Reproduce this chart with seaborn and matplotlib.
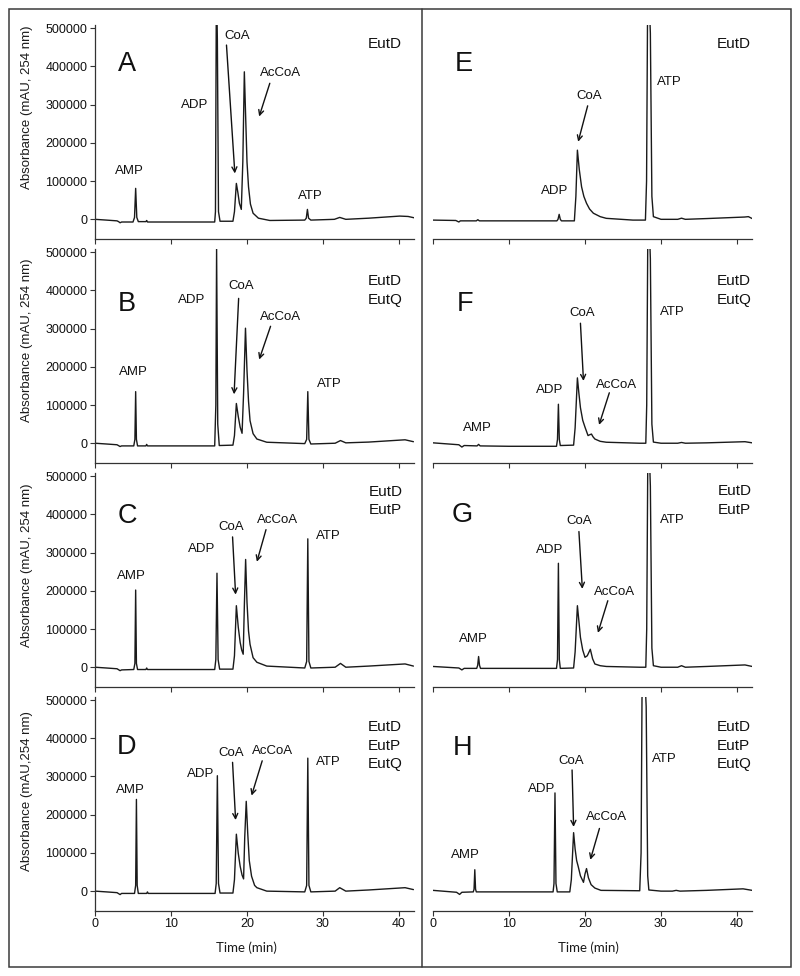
import numpy as np
import pandas as pd
import matplotlib
matplotlib.use("Agg")
import matplotlib.pyplot as plt
import seaborn as sns
from matplotlib.patches import Rectangle
from matplotlib.lines import Line2D

sns.set_theme(style="ticks")
plt.rcParams["font.family"] = ["Liberation Sans", "DejaVu Sans"]

# ---------------- data (time in min, absorbance in mAU) ----------------
time_A = [0, 1.5, 2.9, 3.1, 3.3, 3.5, 5.0, 5.2, 5.35, 5.5, 5.7, 6.7, 6.8, 6.9, 10, 15.75, 15.85, 15.95, 16.0, 16.1, 16.25, 16.45,
          18.15, 18.35, 18.6, 18.8, 19.0, 19.25, 19.45, 19.65, 19.85, 20.0, 20.2, 20.45, 20.8, 21.5, 23.0,
          27.6, 27.8, 27.95, 28.1, 28.4, 31.5, 32.2, 33.0, 36.0, 40.1, 41.2, 42.0]
abs_A = [0, -2000, -4000, -6000, -9000, -7000, -7000, 5000, 81000, 5000, -6000, -6000, -3000, -7000, -7000, -7000, 20000, 505000, 600000, 470000, 20000, -5000,
         -5000, 20000, 94000, 70000, 42000, 26000, 150000, 386000, 250000, 150000, 85000, 40000, 16000, 3000, -3000,
         -2000, 3000, 26000, 3000, -2000, 0, 5000, 0, 3000, 8500, 7500, 4000]

time_B = [0, 1.5, 2.9, 3.3, 3.5, 5.1, 5.25, 5.35, 5.45, 5.6, 6.7, 6.8, 6.9, 10, 15.75, 15.9, 16.0, 16.15, 16.35,
          18.15, 18.35, 18.6, 18.85, 19.1, 19.35, 19.55, 19.8, 20.0, 20.2, 20.4, 20.8, 21.3, 22.6,
          27.6, 27.85, 28.0, 28.15, 28.4, 31.6, 32.3, 33.0, 36.0, 40.8, 41.9]
abs_B = [0, -2000, -4000, -8600, -7000, -7000, 10000, 135000, 10000, -7000, -7000, -3000, -7000, -7000, -7000, 100000, 510000, 50000, -6000,
         -5000, 20000, 104000, 70000, 42000, 26000, 130000, 301000, 190000, 110000, 59000, 25000, 11000, 2600,
         -1000, 10000, 135000, 10000, -2000, 0, 7000, 1000, 3000, 9000, 4000]

time_C = [0, 1.5, 2.9, 3.3, 3.5, 5.1, 5.25, 5.35, 5.45, 5.6, 6.7, 6.8, 6.9, 10, 15.75, 15.9, 16.05, 16.2, 16.4,
          18.15, 18.35, 18.6, 18.85, 19.1, 19.3, 19.5, 19.65, 19.82, 20.0, 20.2, 20.4, 20.8, 21.3, 22.6,
          27.6, 27.85, 28.0, 28.15, 28.4, 31.6, 32.3, 33.0, 36.0, 40.8, 41.9]
abs_C = [0, -2000, -4000, -9000, -7000, -6000, 10000, 202000, 10000, -6000, -6000, -2000, -6000, -6000, -6000, 20000, 246000, 20000, -5000,
         -5000, 30000, 161000, 105000, 65000, 45000, 34000, 160000, 282000, 170000, 95000, 60000, 25000, 13000, 3000,
         -2000, 15000, 336000, 15000, -2000, 0, 10000, 0, 3000, 8600, 3000]

time_D = [0, 1.5, 2.9, 3.3, 3.5, 5.2, 5.35, 5.45, 5.55, 5.7, 6.8, 6.9, 7.0, 10, 15.8, 15.95, 16.1, 16.25, 16.45,
          18.15, 18.35, 18.6, 18.85, 19.1, 19.35, 19.55, 19.7, 19.9, 20.1, 20.3, 20.6, 21.0, 21.3, 22.6,
          27.6, 27.85, 28.0, 28.15, 28.4, 31.6, 32.2, 33.0, 36.0, 40.8, 41.9]
abs_D = [0, -2000, -4000, -9000, -6000, -6000, 15000, 240000, 15000, -6000, -6000, -2000, -6000, -6000, -6000, 20000, 302000, 20000, -5000,
         -5000, 30000, 149000, 99000, 65000, 42000, 32000, 140000, 235000, 150000, 80000, 39000, 15000, 9000, 0,
         -2000, 15000, 348000, 15000, -2000, 0, 9000, 0, 3000, 9000, 4000]

time_E = [0, 3.0, 3.4, 3.6, 5.7, 5.9, 6.1, 10, 16.3, 16.45, 16.6, 16.75, 16.9,
          18.6, 18.8, 19.0, 19.25, 19.55, 19.85, 20.2, 20.6, 21.1, 22.0, 22.8, 26.3,
          27.95, 28.1, 28.22, 28.4, 28.6, 28.8, 29.0, 30.0, 32.2, 32.7, 33.2, 36.0, 41.0, 41.5, 42.0]
abs_E = [-2000, -3000, -7000, -4000, -4000, -1000, -4000, -4000, -4000, 0, 13000, 0, -4000,
         -4000, 60000, 181000, 130000, 85000, 60000, 42000, 27000, 16000, 7000, 2600, -2000,
         -2000, 100000, 505000, 600000, 487000, 60000, 7000, 0, 0, 3000, 0, 2000, 6000, 7000, 2000]

time_F = [0, 3.4, 3.8, 4.1, 5.8, 6.0, 6.2, 10, 16.25, 16.38, 16.5, 16.62, 16.75,
          18.5, 18.7, 19.0, 19.2, 19.4, 19.7, 20.0, 20.4, 20.6, 20.85, 21.05, 21.3, 22.0, 22.8, 27.2,
          28.0, 28.12, 28.25, 28.4, 28.6, 28.8, 29.0, 30.0, 32.2, 32.7, 33.2, 36.0, 41.05, 42.0]
abs_F = [1000, -4000, -10000, -6000, -7000, -3000, -7000, -8000, -8000, 10000, 102000, 10000, -6000,
         -5000, 40000, 171000, 130000, 93000, 60000, 42000, 20000, 22000, 24000, 17000, 11000, 5000, 2600, 0,
         0, 100000, 505000, 600000, 483000, 50000, 3000, 0, 0, 2000, 0, 1000, 4000, 1000]

time_G = [0, 3.4, 3.8, 4.1, 5.75, 5.88, 6.0, 6.12, 6.25, 10, 16.25, 16.38, 16.5, 16.62, 16.75,
          18.5, 18.7, 19.0, 19.2, 19.4, 19.7, 20.0, 20.3, 20.7, 21.0, 21.3, 22.0, 22.8, 27.2,
          28.0, 28.12, 28.25, 28.4, 28.6, 28.8, 29.0, 30.0, 32.2, 32.7, 33.2, 36.0, 41.05, 42.0]
abs_G = [2000, -2000, -7000, -3000, -3000, 5000, 28000, 5000, -3000, -3000, -3000, 20000, 272000, 20000, -3000,
         -2000, 40000, 161000, 120000, 78000, 45000, 26000, 30000, 47000, 22000, 8500, 4000, 2000, 0,
         0, 100000, 505000, 600000, 474000, 50000, 4000, 0, 0, 4000, 0, 2000, 6000, 2000]

time_H = [0, 3.1, 3.5, 3.8, 5.3, 5.4, 5.5, 5.6, 5.7, 10, 15.8, 15.92, 16.05, 16.18, 16.35,
          18.0, 18.2, 18.5, 18.7, 18.9, 19.1, 19.4, 19.8, 20.0, 20.2, 20.45, 20.8, 21.3, 22.1,
          27.2, 27.38, 27.5, 27.8, 28.05, 28.25, 28.4, 30.0, 31.5, 32.0, 32.5, 36.0, 40.8, 42.0]
abs_H = [2000, -3000, -8600, -3000, -2000, 5000, 56000, 5000, -2000, -2000, -2000, 20000, 257000, 20000, -2000,
         -2000, 30000, 153000, 110000, 80000, 65000, 40000, 23000, 45000, 59000, 35000, 17000, 8000, 2000,
         1000, 100000, 505000, 600000, 483000, 40000, 3000, 0, 0, 2000, 0, 2000, 6000, 2000]

strains_A = ["EutD"]
strains_B = ["EutD", "EutQ"]
strains_C = ["EutD", "EutP"]
strains_D = ["EutD", "EutP", "EutQ"]
strains_E = ["EutD"]
strains_F = ["EutD", "EutQ"]
strains_G = ["EutD", "EutP"]
strains_H = ["EutD", "EutP", "EutQ"]

y_ticks = [0, 100000, 200000, 300000, 400000, 500000]
x_ticks = [0, 10, 20, 30, 40]
ylabels = ["Absorbance (mAU, 254 nm)", "Absorbance (mAU, 254 nm)",
           "Absorbance (mAU, 254 nm)", "Absorbance (mAU,254 nm)"]

# ---------------- annotation layout ----------------
traces = {"A": (time_A, abs_A), "B": (time_B, abs_B), "C": (time_C, abs_C), "D": (time_D, abs_D),
          "E": (time_E, abs_E), "F": (time_F, abs_F), "G": (time_G, abs_G), "H": (time_H, abs_H)}
strains = {"A": strains_A, "B": strains_B, "C": strains_C, "D": strains_D,
           "E": strains_E, "F": strains_F, "G": strains_G, "H": strains_H}

# label centres (time, absorbance)
peak_labels = {
    "A": [("AMP", 4.5, 131000), ("ADP", 13.1, 304000), ("CoA", 18.7, 484000), ("AcCoA", 24.4, 388000), ("ATP", 28.3, 66000)],
    "B": [("AMP", 5.0, 191000), ("ADP", 12.7, 379000), ("CoA", 19.2, 417000), ("AcCoA", 24.4, 334000), ("ATP", 30.8, 160000)],
    "C": [("AMP", 4.8, 243000), ("ADP", 14.0, 315000), ("CoA", 17.9, 371000), ("AcCoA", 24.0, 390000), ("ATP", 30.7, 347000)],
    "D": [("AMP", 4.6, 268000), ("ADP", 13.9, 311000), ("CoA", 17.9, 367000), ("AcCoA", 23.4, 371000), ("ATP", 30.7, 343000)],
    "E": [("ADP", 16.05, 78500), ("CoA", 20.5, 327000), ("ATP", 31.1, 363000)],
    "F": [("AMP", 5.9, 44000), ("ADP", 15.3, 145000), ("CoA", 19.6, 345000), ("AcCoA", 24.1, 158000), ("ATP", 31.5, 347000)],
    "G": [("AMP", 5.3, 78000), ("ADP", 15.3, 312000), ("CoA", 19.3, 388000), ("AcCoA", 23.9, 201000), ("ATP", 31.5, 390000)],
    "H": [("AMP", 4.2, 98000), ("ADP", 14.25, 272000), ("CoA", 18.2, 345000), ("AcCoA", 22.8, 199000), ("ATP", 30.4, 350000)],
}
arrows = {
    "A": [((17.3, 456000), (18.4, 120000)), ((23.0, 356000), (21.6, 269000))],
    "B": [((18.9, 379000), (18.3, 128000)), ((23.1, 306000), (21.6, 219000))],
    "C": [((18.1, 341000), (18.5, 190000)), ((22.5, 360000), (21.3, 276000))],
    "D": [((18.1, 337000), (18.5, 186000)), ((22.0, 341000), (20.6, 250000))],
    "E": [((20.35, 297000), (19.1, 203000))],
    "F": [((19.4, 314000), (19.8, 163000)), ((23.2, 132000), (21.85, 48000))],
    "G": [((19.2, 355000), (19.65, 205000)), ((23.0, 174000), (21.7, 90000))],
    "H": [((18.3, 317000), (18.5, 168000)), ((21.9, 164000), (20.7, 82000))],
}
letter_pos = {"A": (4.2, 413000), "B": (4.2, 371000), "C": (4.2, 401000), "D": (4.1, 383000),
              "E": (4.0, 413000), "F": (4.2, 371000), "G": (3.8, 405000), "H": (3.85, 380000)}
strain_pos = {"A": (35.9, 461500), "B": (35.9, 428000), "C": (36.0, 463000), "D": (35.9, 433000),
              "E": (37.3, 462000), "F": (37.3, 428000), "G": (37.5, 464000), "H": (37.3, 433000)}
strain_step = 48500

YMIN, YMAX = -52000, 508000
UNITS_PER_PX = (YMAX - YMIN) / 214.0

W, H = 800, 976
fig = plt.figure(figsize=(W / 100, H / 100), dpi=100)
lefts = [95 / W, 433 / W]
ax_w = 319.2 / W
ax_h = 214 / H
bottoms_px = [239.2, 463.1, 687.1, 911.0]

ink = "#1a1a1a"
letters = ["A", "B", "C", "D", "E", "F", "G", "H"]
for i, p in enumerate(letters):
    col, row = divmod(i, 4)
    ax = fig.add_axes([lefts[col], 1 - bottoms_px[row] / H, ax_w, ax_h])
    t, a = traces[p]
    df = pd.DataFrame({"t": t, "a": a})
    sns.lineplot(data=df, x="t", y="a", ax=ax, color=ink, lw=1.0, estimator=None, sort=False)
    ax.set_xlim(0, 42)
    ax.set_ylim(YMIN, YMAX)
    ax.set_xlabel("")
    ax.set_ylabel("")
    for s in ["top", "right"]:
        ax.spines[s].set_visible(False)
    for s in ["left", "bottom"]:
        ax.spines[s].set_color("#333333")
        ax.spines[s].set_linewidth(0.9)
    ax.set_xticks(x_ticks)
    ax.tick_params(axis="both", direction="out", length=3.3, width=0.8, color="#333333",
                   labelsize=9, labelcolor="#111111")
    ax.tick_params(axis="x", pad=1.5)
    ax.tick_params(axis="y", pad=2.2)
    if row == 3:
        ax.set_xticklabels([str(v) for v in x_ticks])
    else:
        ax.set_xticklabels([])
    if col == 0:
        ax.set_yticks(y_ticks)
        ax.set_yticklabels([str(v) for v in y_ticks])
    else:
        ax.spines["left"].set_visible(False)
        ax.set_yticks([])

    # panel letter
    lx, ly = letter_pos[p]
    ax.text(lx, ly - 9.5 * UNITS_PER_PX, p, fontsize=19.5, ha="center", va="baseline", color="#111111")
    # strain list
    sx, sy = strain_pos[p]
    for k, s in enumerate(strains[p]):
        ax.text(sx, sy - k * strain_step - 5.5 * UNITS_PER_PX, s, fontsize=11, ha="left", va="baseline",
                color="#111111")
    # peak labels
    for lab, px_, py_ in peak_labels[p]:
        ax.text(px_, py_ - 4.7 * UNITS_PER_PX, lab, fontsize=9.5, ha="center", va="baseline", color="#111111")
    for (x0, y0), (x1, y1) in arrows[p]:
        ax.annotate("", xy=(x1, y1), xytext=(x0, y0),
                    arrowprops=dict(arrowstyle="->", lw=1.0, color="#111111", shrinkA=0, shrinkB=0,
                                    mutation_scale=9))

# y labels (left column)
ylab_centres = [107.5, 340.5, 565.3, 790.7]
for lab, yc in zip(ylabels, ylab_centres):
    fig.text(26.7 / W, 1 - yc / H, lab, rotation=90, ha="center", va="center", fontsize=9.5, color="#1a1a1a")

# x labels
for xc in [246.3, 588.3]:
    fig.text(xc / W, 1 - 947.7 / H, "Time (min)", ha="center", va="center", fontsize=9.5,
             family=["Lato", "DejaVu Sans"], color="#1a1a1a")

# outer frame and divider
fig.add_artist(Rectangle((8.5 / W, 1 - 966.5 / H), (790.5 - 8.5) / W, (966.5 - 8.5) / H,
                         transform=fig.transFigure, fill=False, lw=1.1, ec="#3a3a3a"))
fig.add_artist(Line2D([421.7 / W, 421.7 / W], [1 - 966.5 / H, 1 - 8.5 / H],
                      transform=fig.transFigure, lw=1.1, color="#3a3a3a"))

fig.savefig("out.png", dpi=100, facecolor="white")
